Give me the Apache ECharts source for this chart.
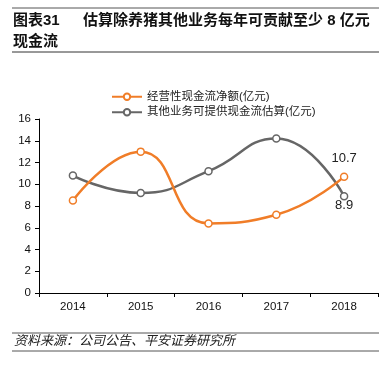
<!DOCTYPE html>
<html><head><meta charset="utf-8">
<script src="https://cdn.jsdelivr.net/npm/echarts@6/dist/echarts.min.js"></script>
<style>html,body{margin:0;padding:0;background:#fff}#c{width:389px;height:365px}</style>
</head><body><div id="c"></div>
<script>
var categories = ['2014', '2015', '2016', '2017', '2018'];
var cashFlow = [8.5, 13.0, 6.4, 7.2, 10.7];
var otherBiz = [10.8, 9.2, 11.2, 14.2, 8.9];
var seriesNames = ['经营性现金流净额(亿元)', '其他业务可提供现金流估算(亿元)'];
var titleLabel = '图表31';
var titleText = ['估算除养猪其他业务每年可贡献至少 8 亿元', '现金流'];
var sourceText = '资料来源：公司公告、平安证券研究所';

var font = '"Liberation Sans","Noto Sans CJK SC",sans-serif';
var chart = echarts.init(document.getElementById('c'));
var lastIdx = categories.length - 1;
chart.setOption({
  animation: false,
  textStyle: {fontFamily: font},
  graphic: [
    {type: 'line', shape: {x1: 12, y1: 8, x2: 379, y2: 8}, style: {stroke: '#555', lineWidth: 1}},
    {type: 'text', left: 13, top: 13, style: {text: titleLabel, font: 'bold 15px ' + font, fill: '#111'}},
    {type: 'text', left: 83, top: 13, style: {text: titleText[0], font: 'bold 15px ' + font, fill: '#111'}},
    {type: 'text', left: 13, top: 34, style: {text: titleText[1], font: 'bold 15px ' + font, fill: '#111'}},
    {type: 'line', shape: {x1: 12, y1: 52, x2: 379, y2: 52}, style: {stroke: '#333', lineWidth: 1}},
    {type: 'line', shape: {x1: 12, y1: 333, x2: 379, y2: 333}, style: {stroke: '#555', lineWidth: 1}},
    {type: 'text', left: 14, top: 335, style: {text: sourceText, font: 'italic 13px ' + font, fill: '#222'}},
    {type: 'line', shape: {x1: 12, y1: 351, x2: 379, y2: 351}, style: {stroke: '#555', lineWidth: 1}}
  ],
  legend: {
    orient: 'vertical', left: 106, top: 86, itemGap: 4,
    itemWidth: 30, itemHeight: 8,
    textStyle: {fontSize: 11.5, color: '#222'},
    data: seriesNames
  },
  grid: {left: 39, right: 11, top: 119, bottom: 72},
  xAxis: {
    type: 'category', data: categories, boundaryGap: true,
    axisLine: {lineStyle: {color: '#000'}},
    axisTick: {show: true, length: 4, lineStyle: {color: '#000'}},
    axisLabel: {color: '#111', fontSize: 11.5, margin: 8}
  },
  yAxis: {
    type: 'value', min: 0, max: 16, interval: 2,
    axisLine: {show: true, lineStyle: {color: '#000'}},
    axisTick: {show: true, inside: false, length: 4, lineStyle: {color: '#000'}},
    axisLabel: {color: '#111', fontSize: 11.5, margin: 8},
    splitLine: {show: false}
  },
  series: [
    {
      name: seriesNames[0], type: 'line', data: cashFlow, smooth: 0.5,
      symbol: 'circle', symbolSize: 7,
      lineStyle: {color: '#F07D28', width: 2.5},
      itemStyle: {color: '#fff', borderColor: '#F07D28', borderWidth: 1.5},
      label: {show: true, position: 'top', distance: 7, fontSize: 13, color: '#222',
        formatter: function (p) { return p.dataIndex === lastIdx ? p.value.toFixed(1) : ''; }},
      z: 3
    },
    {
      name: seriesNames[1], type: 'line', data: otherBiz, smooth: 0.5,
      symbol: 'circle', symbolSize: 7,
      lineStyle: {color: '#666666', width: 2.5},
      itemStyle: {color: '#fff', borderColor: '#666666', borderWidth: 1.5},
      label: {show: true, position: 'bottom', distance: 0, offset: [0, -2], fontSize: 13, color: '#222',
        formatter: function (p) { return p.dataIndex === lastIdx ? p.value.toFixed(1) : ''; }},
      z: 2
    }
  ]
});
</script></body></html>
